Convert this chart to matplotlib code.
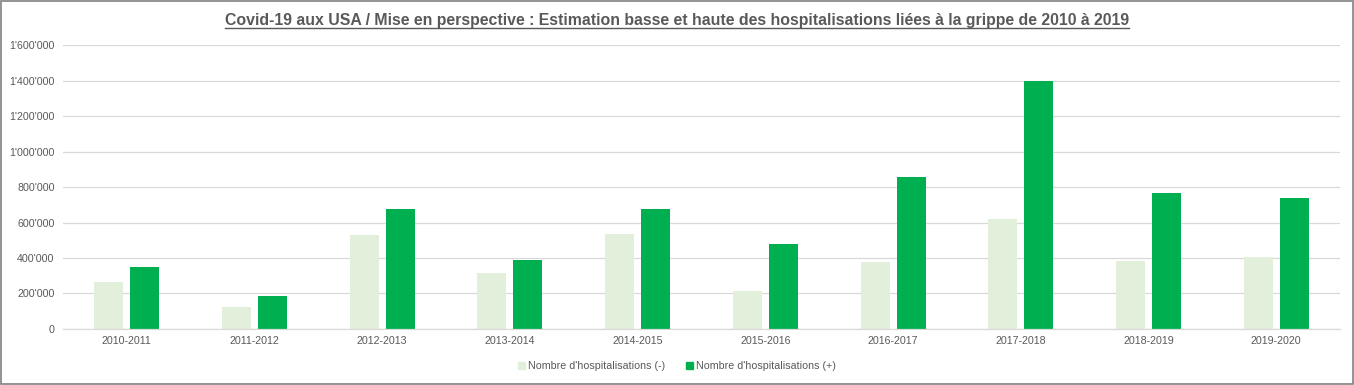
import matplotlib

matplotlib.use("Agg")
import matplotlib.pyplot as plt  # noqa: E402
from matplotlib.lines import Line2D  # noqa: E402
from matplotlib.patches import Rectangle  # noqa: E402
from matplotlib.ticker import FuncFormatter, MultipleLocator  # noqa: E402
import numpy as np  # noqa: E402

SEASONS = [
    "2010-2011", "2011-2012", "2012-2013", "2013-2014", "2014-2015",
    "2015-2016", "2016-2017", "2017-2018", "2018-2019", "2019-2020",
]
HOSP_LOW = [265000, 125000, 530000, 315000, 535000, 215000, 380000, 620000, 385000, 405000]
HOSP_HIGH = [350000, 188000, 678000, 390000, 678000, 480000, 858000, 1400000, 768000, 740000]

TITLE = "Covid-19 aux USA / Mise en perspective : Estimation basse et haute des hospitalisations liées à la grippe de 2010 à 2019"
LABEL_LOW = "Nombre d'hospitalisations (-)"
LABEL_HIGH = "Nombre d'hospitalisations (+)"

TEXT_COLOR = "#595959"
GRID_COLOR = "#d9d9d9"
LOW_COLOR = "#e2efda"
HIGH_COLOR = "#00b050"
SMALL = 7.7

plt.rcParams["font.family"] = ["Liberation Sans", "DejaVu Sans"]


def _thousands(value, _pos):
    return f"{int(value):,}".replace(",", "'")


def main() -> None:
    fig = plt.figure(figsize=(13.54, 3.85), dpi=100)
    ax = fig.add_axes([0.0465, 0.1455, 0.9432, 0.7375])

    x = np.arange(len(SEASONS))
    width = 0.227
    offset = 0.141
    ax.bar(x - offset, HOSP_LOW, width=width, color=LOW_COLOR, label=LABEL_LOW, zorder=2)
    ax.bar(x + offset, HOSP_HIGH, width=width, color=HIGH_COLOR, label=LABEL_HIGH, zorder=2)

    ax.set_xlim(-0.5, len(SEASONS) - 0.5)
    ax.set_ylim(0, 1600000)
    ax.yaxis.set_major_locator(MultipleLocator(200000))
    ax.yaxis.set_major_formatter(FuncFormatter(_thousands))
    ax.set_xticks(x)
    ax.set_xticklabels(SEASONS)
    ax.tick_params(axis="both", length=0, labelsize=SMALL, labelcolor=TEXT_COLOR)
    ax.tick_params(axis="x", pad=5)
    ax.tick_params(axis="y", pad=6)
    ax.grid(axis="y", color=GRID_COLOR, linewidth=0.9, zorder=0)
    for side in ("left", "right", "top"):
        ax.spines[side].set_visible(False)
    ax.spines["bottom"].set_color(GRID_COLOR)
    ax.spines["bottom"].set_linewidth(0.9)

    handles = [
        Rectangle((0, 0), 1, 1, color=LOW_COLOR),
        Rectangle((0, 0), 1, 1, color=HIGH_COLOR),
    ]
    fig.legend(
        handles, [LABEL_LOW, LABEL_HIGH],
        loc="center", bbox_to_anchor=(0.5, 1 - 366 / 385), ncol=2, frameon=False,
        fontsize=SMALL, labelcolor=TEXT_COLOR, handlelength=0.6, handleheight=0.6,
        handletextpad=0.3, columnspacing=2.0,
    )

    title = fig.text(0.5, 1 - 20 / 385, TITLE, ha="center", va="center",
                     fontsize=11.4, fontweight="bold", color=TEXT_COLOR)

    # underline under the title
    fig.canvas.draw()
    bbox = title.get_window_extent().transformed(fig.transFigure.inverted())
    y_line = bbox.y0 - 0.002
    fig.add_artist(Line2D([bbox.x0, bbox.x1], [y_line, y_line], transform=fig.transFigure,
                          color=TEXT_COLOR, linewidth=1.0))

    # outer border
    fig.add_artist(Rectangle((0.0005, 0.0015), 0.999, 0.997, transform=fig.transFigure,
                             fill=False, edgecolor="#808080", linewidth=1.2))

    fig.savefig("out.png", dpi=100)
    plt.close(fig)


if __name__ == "__main__":
    main()
